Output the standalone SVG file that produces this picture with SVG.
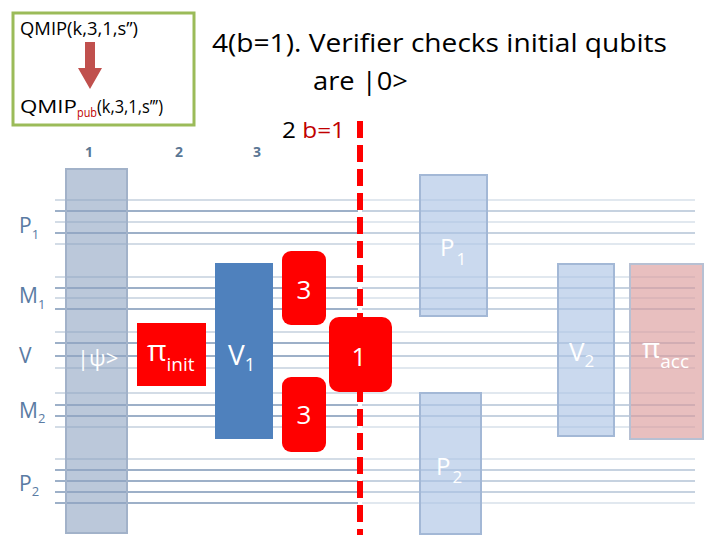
<svg xmlns="http://www.w3.org/2000/svg" width="720" height="540" viewBox="0 0 720 540">
<style>
  .f{font-family:"Open Sans","Noto Sans","Liberation Sans",sans-serif}
  .lab{fill:#5A7BA3;font-size:21px}
  .sub{font-size:13px}
  .num{fill:#5A7694;font-size:14px;font-weight:bold}
  .w{fill:#FFFFFF}
  .lt{stroke:#C4D0DE;stroke-width:1.3}
  .dk{stroke:#7C96B6;stroke-width:1.3}
  .rlt{stroke:#D7E0EA;stroke-width:1.3}
  .rdk{stroke:#B3C3D6;stroke-width:1.3}
  .red{fill:#FF0000}
  .pale{fill:#A6BFE2;fill-opacity:0.6;stroke:#A3B8D6;stroke-width:2}
</style>
<rect width="720" height="540" fill="#FFFFFF"/>

<!-- wires -->
<g id="wires">
  <g id="wires-left">
    <line class="lt" x1="55" y1="200" x2="358" y2="200"/>
    <line class="dk" x1="55" y1="211" x2="358" y2="211"/>
    <line class="lt" x1="55" y1="222" x2="358" y2="222"/>
    <line class="dk" x1="55" y1="233" x2="358" y2="233"/>
    <line class="lt" x1="55" y1="244" x2="358" y2="244"/>
    <line class="lt" x1="55" y1="277" x2="358" y2="277"/>
    <line class="dk" x1="55" y1="288" x2="358" y2="288"/>
    <line class="lt" x1="55" y1="298" x2="358" y2="298"/>
    <line class="dk" x1="55" y1="309" x2="358" y2="309"/>
    <line class="lt" x1="55" y1="332" x2="358" y2="332"/>
    <line class="dk" x1="55" y1="343" x2="358" y2="343"/>
    <line class="dk" x1="55" y1="356" x2="358" y2="356"/>
    <line class="lt" x1="55" y1="368" x2="358" y2="368"/>
    <line class="lt" x1="55" y1="393" x2="358" y2="393"/>
    <line class="dk" x1="55" y1="405" x2="358" y2="405"/>
    <line class="dk" x1="55" y1="416" x2="358" y2="416"/>
    <line class="lt" x1="55" y1="427" x2="358" y2="427"/>
    <line class="lt" x1="55" y1="459" x2="358" y2="459"/>
    <line class="dk" x1="55" y1="470" x2="358" y2="470"/>
    <line class="dk" x1="55" y1="481" x2="358" y2="481"/>
    <line class="dk" x1="55" y1="492" x2="358" y2="492"/>
    <line class="dk" x1="55" y1="503" x2="358" y2="503"/>
  </g>
  <g id="wires-right">
    <line class="rlt" x1="362" y1="200" x2="695" y2="200"/>
    <line class="rdk" x1="362" y1="211" x2="695" y2="211"/>
    <line class="rlt" x1="362" y1="222" x2="695" y2="222"/>
    <line class="rdk" x1="362" y1="233" x2="695" y2="233"/>
    <line class="rlt" x1="362" y1="244" x2="695" y2="244"/>
    <line class="rlt" x1="362" y1="277" x2="695" y2="277"/>
    <line class="rdk" x1="362" y1="288" x2="695" y2="288"/>
    <line class="rlt" x1="362" y1="298" x2="695" y2="298"/>
    <line class="rdk" x1="362" y1="309" x2="695" y2="309"/>
    <line class="rlt" x1="362" y1="332" x2="695" y2="332"/>
    <line class="rdk" x1="362" y1="343" x2="695" y2="343"/>
    <line class="rdk" x1="362" y1="356" x2="695" y2="356"/>
    <line class="rlt" x1="362" y1="368" x2="695" y2="368"/>
    <line class="rlt" x1="362" y1="393" x2="695" y2="393"/>
    <line class="rdk" x1="362" y1="405" x2="695" y2="405"/>
    <line class="rdk" x1="362" y1="416" x2="695" y2="416"/>
    <line class="rlt" x1="362" y1="427" x2="695" y2="427"/>
    <line class="rlt" x1="362" y1="459" x2="695" y2="459"/>
    <line class="rdk" x1="362" y1="470" x2="695" y2="470"/>
    <line class="rdk" x1="362" y1="481" x2="695" y2="481"/>
    <line class="rdk" x1="362" y1="492" x2="695" y2="492"/>
    <line class="rlt" x1="362" y1="503" x2="695" y2="503"/>
  </g>
</g>

<!-- header box -->
<g id="header">
  <rect x="13" y="13" width="181" height="112" fill="#FFFFFF" stroke="#9BBB59" stroke-width="3"/>
  <text class="f" x="20" y="35" font-size="18" fill="#000000" textLength="118" lengthAdjust="spacingAndGlyphs">QMIP(k,3,1,s’’)</text>
  <path d="M85,42 H95 V68 H102 L90,89 L78,68 H85 Z" fill="#C0504D"/>
  <text class="f" x="20" y="113" font-size="18" fill="#000000"><tspan textLength="57" lengthAdjust="spacingAndGlyphs">QMIP</tspan><tspan fill="#C00000" font-size="12" dy="4" textLength="20" lengthAdjust="spacingAndGlyphs">pub</tspan><tspan dy="-4" textLength="66" lengthAdjust="spacingAndGlyphs">(k,3,1,s’’’)</tspan></text>
</g>

<!-- title -->
<g id="title">
  <text class="f" x="212" y="52" font-size="26" fill="#000000" textLength="455" lengthAdjust="spacingAndGlyphs">4(b=1). Verifier checks initial qubits</text>
  <text class="f" x="313" y="90" font-size="26" fill="#000000" textLength="95" lengthAdjust="spacingAndGlyphs">are |0&gt;</text>
  <text class="f" x="282" y="138" font-size="21" fill="#000000" textLength="63" lengthAdjust="spacingAndGlyphs">2 <tspan fill="#C00000">b=1</tspan></text>
</g>

<!-- step numbers -->
<g id="steps">
  <text class="f num" x="85" y="157">1</text>
  <text class="f num" x="175" y="157">2</text>
  <text class="f num" x="253" y="157">3</text>
</g>

<!-- wire labels -->
<g id="labels">
  <text class="f lab" x="19" y="233">P<tspan class="sub" dy="6">1</tspan></text>
  <text class="f lab" x="19" y="303">M<tspan class="sub" dy="6">1</tspan></text>
  <text class="f lab" x="19" y="363">V</text>
  <text class="f lab" x="19" y="418">M<tspan class="sub" dy="5">2</tspan></text>
  <text class="f lab" x="19" y="491">P<tspan class="sub" dy="5">2</tspan></text>
</g>

<!-- divider (behind gates) -->
<g id="divider">
  <line x1="360" y1="121" x2="360" y2="535" stroke="#FF0000" stroke-width="6" stroke-dasharray="17 7"/>
</g>

<!-- nodes -->
<g id="psi">
  <rect x="66" y="169" width="61" height="364" fill="#8EA3C1" fill-opacity="0.6" stroke="#A2B2C9" stroke-width="2"/>
  <text class="f w" x="77" y="366" font-size="22">|ψ&gt;</text>
</g>

<g id="pi-init">
  <rect class="red" x="137" y="323" width="69" height="63"/>
  <text class="f w" x="147" y="361" font-size="30">π<tspan font-size="19" dy="10">init</tspan></text>
</g>

<g id="V1">
  <rect x="215" y="263" width="58" height="176" fill="#4F81BD"/>
  <text class="f w" x="228" y="365" font-size="28">V<tspan font-size="18" dy="6">1</tspan></text>
</g>

<g id="gate3-top">
  <rect class="red" x="282" y="251" width="44" height="74" rx="9"/>
  <text class="f w" x="304" y="299" font-size="26" text-anchor="middle">3</text>
</g>

<g id="gate3-bottom">
  <rect class="red" x="282" y="377" width="44" height="75" rx="9"/>
  <text class="f w" x="304" y="424" font-size="26" text-anchor="middle">3</text>
</g>

<g id="gate1">
  <rect class="red" x="329" y="317" width="63" height="75" rx="10"/>
  <text class="f w" x="359" y="366" font-size="26" text-anchor="middle">1</text>
</g>

<g id="P1-box">
  <rect class="pale" x="420" y="175" width="67" height="141"/>
  <text class="f w" x="440" y="256" font-size="24">P<tspan font-size="17" dy="9" dx="2">1</tspan></text>
</g>

<g id="P2-box">
  <rect class="pale" x="420" y="393" width="61" height="141"/>
  <text class="f w" x="436" y="475" font-size="24">P<tspan font-size="17" dy="8" dx="2">2</tspan></text>
</g>

<g id="V2-box">
  <rect class="pale" x="558" y="264" width="56" height="172"/>
  <text class="f w" x="569" y="361" font-size="26">V<tspan font-size="17" dy="6">2</tspan></text>
</g>

<g id="pi-acc">
  <rect x="630" y="264" width="73" height="175" fill="#D99594" fill-opacity="0.6" stroke="#B7C0D3" stroke-width="2"/>
  <text class="f w" x="642" y="358" font-size="28">π<tspan font-size="19" dy="10">acc</tspan></text>
</g>
</svg>
